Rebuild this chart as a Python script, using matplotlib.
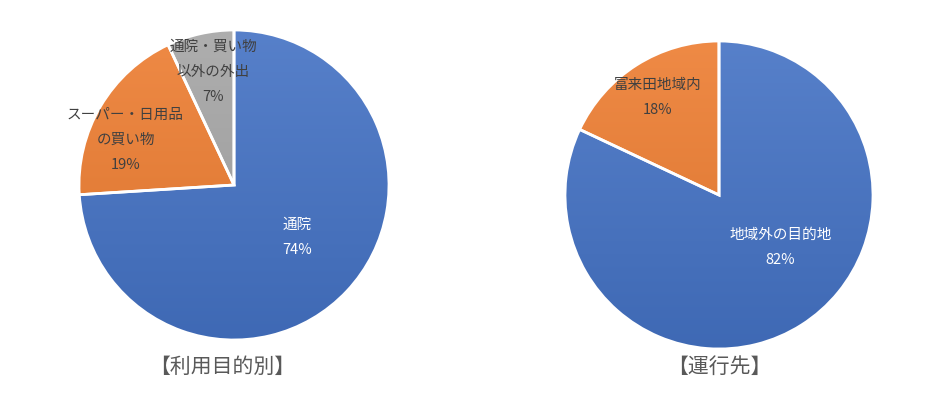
import numpy as np
import matplotlib
matplotlib.use("Agg")
from matplotlib import pyplot as plt
from matplotlib.colors import LinearSegmentedColormap, to_rgb

plt.rcParams['font.family'] = ['Noto Sans CJK JP', 'DejaVu Sans']

# data
left_labels = ['通院', 'スーパー・日用品\nの買い物', '通院・買い物\n以外の外出']
left_values = [74, 19, 7]
left_title = '【利用目的別】'

right_labels = ['地域外の目的地', '富来田地域内']
right_values = [82, 18]
right_title = '【運行先】'

blue = '#4472C4'
orange = '#ED7D31'
gray = '#A5A5A5'


def shade(c, f):
    r, g, b = to_rgb(c)
    if f > 0:
        return (r + (1 - r) * f, g + (1 - g) * f, b + (1 - b) * f)
    return (r * (1 + f), g * (1 + f), b * (1 + f))


def draw_pie(ax, values, labels, colors, label_pos, text_colors):
    wedges, _ = ax.pie(values, colors=colors, startangle=90, counterclock=False,
                       radius=1, wedgeprops=dict(edgecolor='white', linewidth=2))
    # vertical gradient, lighter at top
    grad = np.linspace(0, 1, 256).reshape(-1, 1)
    for w, c in zip(wedges, colors):
        cmap = LinearSegmentedColormap.from_list('g', [shade(c, -0.08), shade(c, 0.1)])
        im = ax.imshow(grad, cmap=cmap, extent=[-1, 1, -1, 1], origin='lower', zorder=0.5)
        im.set_clip_path(w)
        w.set_facecolor('none')
        w.set_zorder(1)
    for v, lab, (x, y), tc in zip(values, labels, label_pos, text_colors):
        ax.text(x, y, f'{lab}\n{v}%', ha='center', va='center', fontsize=10.5,
                color=tc, linespacing=2.0, zorder=3)
    ax.set_xlim(-1.02, 1.02)
    ax.set_ylim(-1.02, 1.02)
    ax.set_aspect('equal')
    ax.axis('off')


fig = plt.figure(figsize=(9.47, 3.93), dpi=100)
W, H = 947, 393


def add_axes(cx, cy, r):
    r2 = r * 1.02
    return fig.add_axes([(cx - r2) / W, (H - cy - r2) / H, 2 * r2 / W, 2 * r2 / H])


ax1 = add_axes(234, 185, 155)
draw_pie(ax1, left_values, left_labels, [blue, orange, gray],
         [(0.41, -0.34), (-0.70, 0.29), (-0.135, 0.73)],
         ['white', '#404040', '#404040'])

ax2 = add_axes(719, 195, 154)
draw_pie(ax2, right_values, right_labels, [blue, orange],
         [(0.40, -0.34), (-0.40, 0.63)],
         ['white', '#404040'])

fig.text(222 / W, 1 - 367 / H, left_title, ha='center', va='center', fontsize=15, color='#595959')
fig.text(719 / W, 1 - 367 / H, right_title, ha='center', va='center', fontsize=15, color='#595959')

fig.savefig('out.png', dpi=100, facecolor='white')
